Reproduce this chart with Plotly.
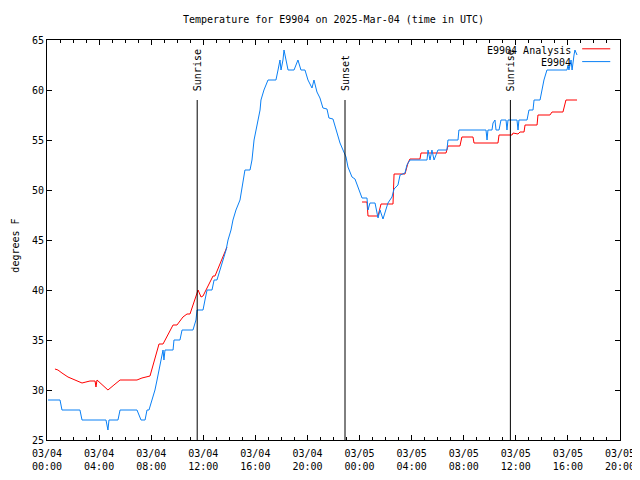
import datetime as dt
import plotly.graph_objects as go

# ---- data (hours after 2025-03-04 00:00 UTC, degrees F) ----
obs_hours = [0.08, 1.00, 1.15, 2.53, 2.69, 4.53, 4.68, 4.76, 5.45, 5.61, 6.91, 7.22, 7.53, 7.68,
             7.83, 8.06, 8.29, 8.45, 8.60, 8.75, 8.91, 8.98, 9.06, 9.68, 9.75, 10.21, 10.37, 11.21,
             11.44, 11.52, 11.98, 12.13, 12.29, 12.67, 12.83, 13.05, 13.28, 13.51, 13.75, 13.90,
             14.13, 14.28, 14.51, 14.82, 15.05, 15.20, 15.59, 15.74, 15.90, 16.05, 16.20, 16.36,
             16.43, 16.66, 16.97, 17.58, 17.74, 17.89, 17.97, 18.12, 18.20, 18.35, 18.51, 18.97,
             19.12, 19.27, 19.50, 19.81, 20.04, 20.35, 20.50, 20.73, 20.96, 21.19, 21.50, 21.65,
             21.96, 22.27, 22.50, 22.73, 22.96, 23.11, 23.42, 23.65, 23.88, 24.19, 24.57, 24.65,
             24.80, 25.19, 25.42, 25.57, 25.80, 26.03, 26.18, 26.49, 26.65, 26.95, 27.11, 27.49,
             27.64, 27.87, 29.18, 29.26, 29.41, 29.56, 29.72, 30.02, 30.71, 30.79, 31.56, 31.63,
             33.71, 33.79, 33.86, 34.17, 34.25, 34.40, 34.48, 34.71, 34.86, 35.25, 35.32, 35.40,
             36.09, 36.17, 36.24, 36.86, 36.93, 37.01, 37.32, 37.40, 37.86, 38.01, 38.16, 38.39,
             39.93, 40.01, 40.08, 40.24, 40.32, 40.47, 40.54, 40.70]
obs_temps = [29, 29, 28, 28, 27, 27, 26, 27, 27, 28, 28, 27, 27, 28,
             28, 29, 30, 31, 32, 33, 34, 33, 34, 34, 35, 35, 36, 36,
             37, 38, 38, 39, 40, 40, 41, 41, 42, 43, 44, 45,
             46, 47, 48, 49, 51, 52, 52, 53, 55, 56, 57, 58,
             59, 60, 61, 61, 62, 63, 62, 63, 64, 63, 62, 62,
             62.5, 63, 62, 62, 61, 60.2, 61, 59.8, 59.2, 58.2, 58.1, 57.2,
             57.1, 55.8, 54.7, 54, 53.3, 52.3, 51.3, 51.1, 50.2, 49.2, 49.2, 48,
             48.7, 48.7, 47.2, 48, 47.1, 48.2, 48.7, 49.3, 50.1, 50.5, 51.5, 51.7,
             52.5, 53, 53, 54, 53, 54, 53, 54, 54, 55, 55, 56,
             56, 55, 56, 56, 56.7, 57, 56, 56, 57, 57, 56, 57,
             57, 56, 57, 57, 57.5, 58, 58, 59, 59, 60, 61, 62,
             62, 62.5, 62, 63, 62, 63.5, 64, 63.5]

ana_hours = [0.61, 0.84, 1.15, 1.61, 2.15, 2.69, 2.99, 3.30, 3.69, 3.76, 3.84, 4.07, 4.68, 5.14,
             5.61, 6.91, 7.29, 7.91, 8.14, 8.37, 8.60, 8.91, 9.68, 9.98, 10.44, 10.75, 10.98,
             11.60, 11.83, 11.98, 12.75, 12.90, 13.82, None,
             24.19, 24.57, 24.65, 25.42, 25.65, 26.57, 26.65, 27.49, 27.72, 27.87, 28.64, 28.72,
             30.64, 30.79, 31.71, 31.86, 32.71, 32.79, 34.63, 34.71, 35.71, 35.79, 36.17, 36.32,
             36.63, 36.71, 37.63, 37.70, 38.62, 38.78, 39.62, 39.85, 40.70]
ana_temps = [32.1, 32.0, 31.7, 31.3, 31.0, 30.7, 30.8, 30.9, 30.9, 30.3, 31.0, 30.7, 30.0, 30.5,
             31.0, 31.0, 31.2, 31.4, 32.5, 33.5, 34.6, 34.6, 36.5, 36.5, 37.3, 37.6, 37.6,
             40.0, 39.3, 39.4, 41.4, 41.4, 44.3, None,
             48.8, 48.8, 47.4, 47.4, 48.6, 48.6, 51.6, 51.6, 52.7, 53.1, 53.1, 53.7,
             53.7, 54.4, 54.4, 55.3, 55.3, 54.7, 54.7, 55.5, 55.5, 55.7, 55.6, 55.8,
             55.8, 56.5, 56.5, 57.5, 57.5, 57.8, 57.8, 59.0, 59.0]

sun_labels = ["Sunrise", "Sunset", "Sunrise"]
sun_times = ["2025-03-04 11:32", "2025-03-04 22:53", "2025-03-05 11:35"]

series_names = ["E9904 Analysis", "E9904"]
title_text = "Temperature for E9904 on 2025-Mar-04 (time in UTC)"
y_label = "degrees F"

base = dt.datetime(2025, 3, 4, 0, 0)


def to_times(hours):
    return [base + dt.timedelta(hours=h) if h is not None else None for h in hours]


RED = "#ff0000"
BLUE = "#0a80f5"
FONT = "DejaVu Sans Mono"

fig = go.Figure()
fig.add_trace(go.Scatter(x=to_times(ana_hours), y=ana_temps, mode="lines",
                         line=dict(color=RED, width=1), name=series_names[0],
                         showlegend=False, connectgaps=False))
fig.add_trace(go.Scatter(x=to_times(obs_hours), y=obs_temps, mode="lines",
                         line=dict(color=BLUE, width=1), name=series_names[1],
                         showlegend=False))

for lab, t in zip(sun_labels, sun_times):
    fig.add_shape(type="line", xref="x", yref="y", x0=t, x1=t, y0=25, y1=59,
                  line=dict(color="black", width=1))
    fig.add_annotation(x=t, y=59.7, xref="x", yref="y", text=lab, textangle=-90,
                       showarrow=False, xanchor="center", yanchor="bottom",
                       font=dict(family=FONT, size=10, color="black"))

# legend drawn gnuplot-style (label left of sample)
for i, (nm, col) in enumerate(zip(series_names, [RED, BLUE])):
    yp = 0.975 - i * 0.032
    fig.add_annotation(x=0.918, y=yp, xref="paper", yref="paper", text=nm,
                       showarrow=False, xanchor="right", yanchor="middle",
                       font=dict(family=FONT, size=10, color="black"))
    fig.add_shape(type="line", xref="paper", yref="paper", x0=0.934, x1=0.983,
                  y0=yp + 0.003, y1=yp + 0.003, line=dict(color=col, width=1))

fig.add_annotation(x=-0.0565, y=0.485, xref="paper", yref="paper", text=y_label,
                   textangle=-90, showarrow=False, xanchor="center", yanchor="middle",
                   font=dict(family=FONT, size=10, color="black"))

# page body has an 8px margin, so the figure is 8px smaller and margins shifted
fig.update_layout(
    width=632, height=472,
    margin=dict(l=39, r=20, t=32, b=40, autoexpand=False),
    paper_bgcolor="white", plot_bgcolor="white",
    font=dict(family=FONT, size=10, color="black"),
    title=dict(text=title_text, x=0.5, xref="paper", xanchor="center",
               y=0.975, yref="container", yanchor="middle",
               font=dict(family=FONT, size=10, color="black")),
    showlegend=False,
)
fig.update_xaxes(
    type="date", range=["2025-03-04 00:00", "2025-03-05 20:00"], automargin=False,
    tick0="2025-03-04 00:00", dtick=4 * 3600000, tickformat="%m/%d<br>%H:%M",
    ticks="inside", ticklen=5, tickcolor="black", tickwidth=1, ticklabelstandoff=4,
    minor=dict(ticks="inside", ticklen=3, dtick=3600000, tickcolor="black", tickwidth=1),
    showline=True, linecolor="black", linewidth=1, mirror="allticks",
    showgrid=False, zeroline=False,
)
fig.update_yaxes(
    range=[25, 65], tick0=25, dtick=5, automargin=False,
    ticks="inside", ticklen=5, tickcolor="black", tickwidth=1,
    showline=True, linecolor="black", linewidth=1, mirror="allticks",
    showgrid=False, zeroline=False,
)

fig.write_html("out.html")
